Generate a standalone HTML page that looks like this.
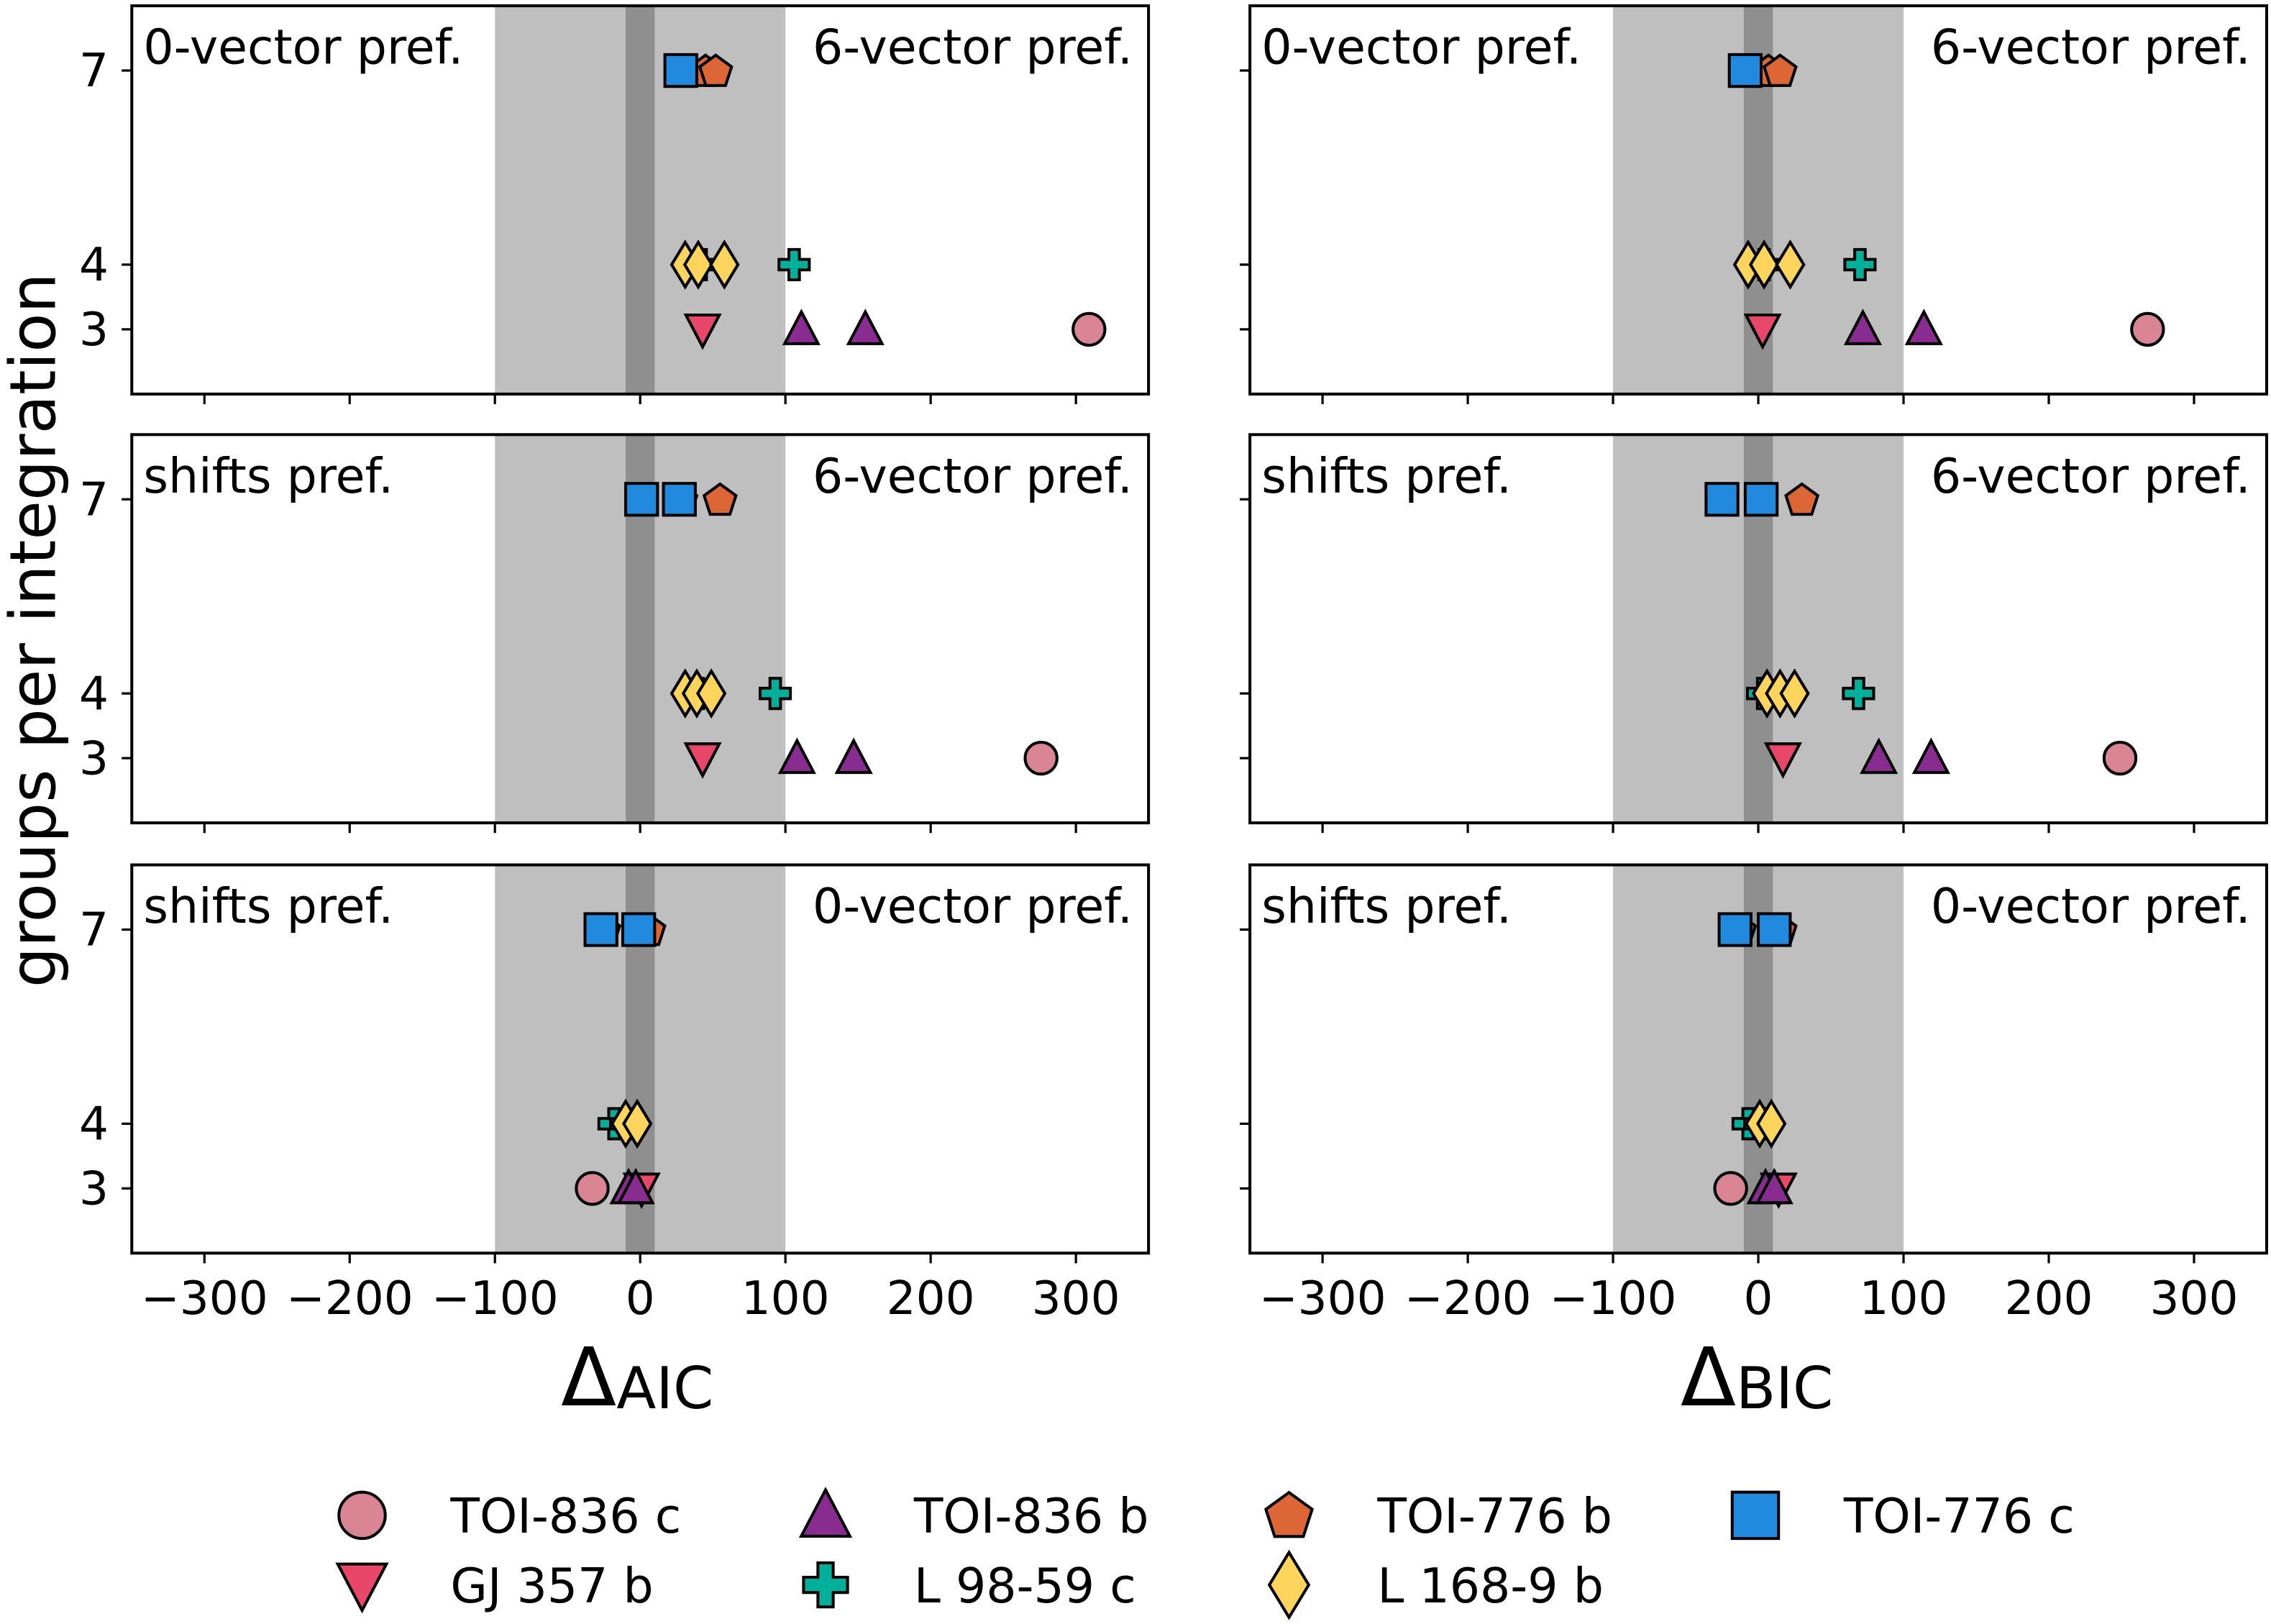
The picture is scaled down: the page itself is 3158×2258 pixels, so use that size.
<!DOCTYPE html>
<html><head><meta charset="utf-8"><style>html,body{margin:0;padding:0;background:#fff}svg{display:block}text{font-family:"DejaVu Sans","Liberation Sans",sans-serif}</style></head>
<body>
<svg id="fig" width="3158" height="2258" viewBox="0 0 1568 1121" preserveAspectRatio="none" xmlns="http://www.w3.org/2000/svg"></svg>
<script>
const planets = ["TOI-836 c","GJ 357 b","TOI-836 b","L 98-59 c","TOI-776 b","L 168-9 b","TOI-776 c"];
const shapes = ["circle","tridown","triup","plus","pentagon","diamond","square"];
const colors = ["#d98594","#e8476a","#882d8f","#00b09b","#dd6636","#fdd45c","#228ade"];
const groups = [3,3,3,4,7,4,7];
const xTicks = [-300,-200,-100,0,100,200,300];
const yTicks = [3,4,7];
const panelTexts = [["0-vector pref.","6-vector pref."],["shifts pref.","6-vector pref."],["shifts pref.","0-vector pref."]];
const aicRow1 = [[309],[43],[111,155],[42,106],[45,52],[31,40,58],[28]];
const bicRow1 = [[268],[3],[72,114],[4,70],[7,15],[-7,4,22],[-9]];
const aicRow2 = [[276],[43],[108,147],[40,93],[28,55],[31,39,49],[1,27]];
const bicRow2 = [[249],[17],[83,119],[3,69],[2,30],[6,15,25],[-25,2]];
const aicRow3 = [[-33],[1],[-8,-3],[-18,-10],[-25,6],[-10,-2],[-27,-1]];
const bicRow3 = [[-19],[14],[5,11],[-7,1],[-13,15],[1,9],[-16,11]];
const panelData = [[aicRow1,bicRow1],[aicRow2,bicRow2],[aicRow3,bicRow3]];

const NS="http://www.w3.org/2000/svg";
const svg=document.getElementById('fig');
function mk(tag,attrs,parent){const e=document.createElementNS(NS,tag);for(const k in attrs)e.setAttribute(k,attrs[k]);(parent||svg).appendChild(e);return e;}
const colX=[91,863], rowY=[4,300,597], PW=702, PH=268;
const XMIN=-350,XMAX=350,YMIN=2,YMAX=8;
function marker(shape,cx,cy,s,fill,parent){
  const st={fill:fill,stroke:"#000","stroke-width":2,"stroke-linejoin":"miter"};
  let e;
  if(shape==="circle"){e=mk('circle',Object.assign({cx:cx,cy:cy,r:s*0.5},st),parent);}
  else{
    let pts;const h=s/2;
    if(shape==="square")pts=[[-h,-h],[h,-h],[h,h],[-h,h]];
    else if(shape==="triup")pts=[[0,-h*1.1],[h*1.05,h*0.9],[-h*1.05,h*0.9]];
    else if(shape==="tridown")pts=[[0,h*1.1],[h*1.05,-h*0.9],[-h*1.05,-h*0.9]];
    else if(shape==="diamond")pts=[[0,-h*1.4],[h*0.85,0],[0,h*1.4],[-h*0.85,0]];
    else if(shape==="pentagon"){pts=[];for(let i=0;i<5;i++){const a=-Math.PI/2+i*2*Math.PI/5;pts.push([Math.cos(a)*h*1.05,Math.sin(a)*h*1.05+1]);}}
    else if(shape==="plus"){const a=h*0.95,b=h*0.33;pts=[[-b,-a],[b,-a],[b,-b],[a,-b],[a,b],[b,b],[b,a],[-b,a],[-b,b],[-a,b],[-a,-b],[-b,-b]];}
    e=mk('polygon',Object.assign({points:pts.map(p=>(cx+p[0])+","+(cy+p[1])).join(" ")},st),parent);
  }
  return e;
}
for(let r=0;r<3;r++)for(let c=0;c<2;c++){
  const x0=colX[c],y0=rowY[r];
  const sx=v=>x0+(v-XMIN)/(XMAX-XMIN)*PW;
  const sy=v=>y0+(YMAX-v)/(YMAX-YMIN)*PH;
  const g=mk('g',{});
  
  
  const clip=mk('clipPath',{id:'cl'+r+c},g);mk('rect',{x:x0,y:y0,width:PW,height:PH},clip);
  const b1=mk('rect',{x:sx(-100),y:y0,width:sx(100)-sx(-100),height:PH,fill:"#bfbfbf"},g);
  
  const b2=mk('rect',{x:sx(-10),y:y0,width:sx(10)-sx(-10),height:PH,fill:"#8f8f8f"},g);
  
  const t1=mk('text',{x:x0+8,y:y0+40,"font-size":33},g);t1.textContent=panelTexts[r][0];
  
  const t2=mk('text',{x:x0+PW-11,y:y0+40,"font-size":33,"text-anchor":"end"},g);t2.textContent=panelTexts[r][1];
  
  const mg=mk('g',{"clip-path":"url(#cl"+r+c+")"},g);
  const d=panelData[r][c];
  for(let p=0;p<planets.length;p++){
    for(const v of d[p]){
      const m=marker(shapes[p],sx(v),sy(groups[p]),22,colors[p],mg);
      
      
    }
  }
  mk('rect',{x:x0,y:y0,width:PW,height:PH,fill:"none",stroke:"#000","stroke-width":2},g);
  for(const t of xTicks){
    mk('line',{x1:sx(t),x2:sx(t),y1:y0+PH,y2:y0+PH+7,stroke:"#000","stroke-width":1.6},g);
    if(r===2){const tl=mk('text',{x:sx(t),y:y0+PH+42,"font-size":32,"text-anchor":"middle"},g);tl.textContent=(t<0?"\u2212":"")+Math.abs(t);
      }
  }
  for(const t of yTicks){
    mk('line',{x1:x0-7,x2:x0,y1:sy(t),y2:sy(t),stroke:"#000","stroke-width":1.6},g);
    if(c===0){const tl=mk('text',{x:x0-16,y:sy(t)+11,"font-size":32,"text-anchor":"end"},g);tl.textContent=t;
      }
  }
}
const yl=mk('text',{x:0,y:0,"font-size":44,"text-anchor":"middle",transform:"translate(38,435) rotate(-90)"});
yl.textContent="groups per integration";
[[440,"AIC"],[1213,"BIC"]].forEach(([x,s])=>{
  const t=mk('text',{x:x,y:970,"font-size":56,"text-anchor":"middle"});
  t.innerHTML='Δ<tspan font-size="40" dy="2">'+s+'</tspan>';
  
});
const lx=[250,570,890,1212],ly=[1046,1094];
for(let p=0;p<planets.length;p++){
  const col=Math.floor(p/2),row=p%2;
  const g=mk('g',{});
  
  
  marker(shapes[p],lx[col],ly[row],32,colors[p],g);
  const t=mk('text',{x:lx[col]+61,y:ly[row]+12,"font-size":33},g);t.textContent=planets[p];
}
</script>
</body></html>
